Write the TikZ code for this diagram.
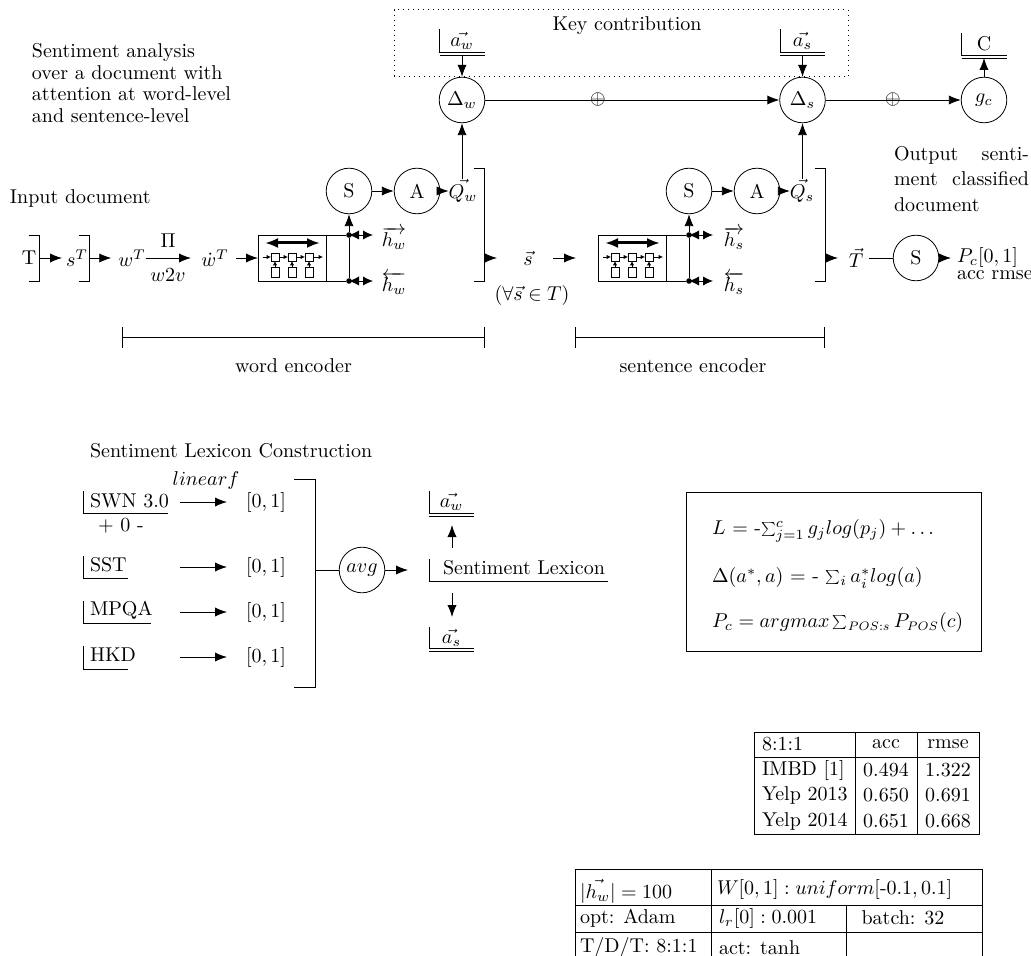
\documentclass[tikz,border=0pt]{standalone}
\usepackage{graphicx}
\usetikzlibrary{arrows.meta,calc}
\newcommand\smsum{\mathop{\vcenter{\hbox{\scalebox{0.7}{$\textstyle\sum$}}}}\nolimits}
\newcommand\possub[1]{\scalebox{0.88}{$\scriptstyle #1$}}
\tikzset{
  wh/.style 2 args={minimum width=#1*0.5pt,minimum height=#2*0.5pt},
  txt/.style={inner sep=0pt,outer sep=0pt},
  ltxt/.style={inner sep=0pt,outer sep=0pt,anchor=west},
  circ/.style={circle,draw,inner sep=0pt,minimum size=22.8pt},
  dbbox/.style={inner sep=0pt,outer sep=0pt},
  ln/.style={line width=0.45pt},
  arr/.style={line width=0.45pt,-{Latex[length=6pt,width=4.6pt]}},
  dblarr/.style={line width=0.45pt,{Latex[length=5pt,width=4.6pt]}-{Latex[length=5pt,width=4.6pt]}},
  thickarr/.style={line width=1.5pt,{Latex[length=6.5pt,width=5pt]}-{Latex[length=6.5pt,width=5pt]}},
  tinyarr/.style={line width=0.4pt,-{Latex[length=2.2pt,width=2.2pt]}},
  cellbox/.style={draw,line width=0.4pt,inner sep=0pt,outer sep=0pt},
  dotn/.style={circle,fill,inner sep=0pt,minimum size=2.8pt},
}
\newcommand\dbsingle[1]{\draw[ln] (#1.north west)--(#1.south west)--(#1.south east);}
\newcommand\dbdouble[1]{\dbsingle{#1}\draw[ln] ([yshift=-1.5pt]#1.south west)--([yshift=-1.5pt]#1.south east);}
\newcommand\bracketat[4]{% name, x, top, bottom
  \coordinate (#1a) at (#2-10.5,#3);\coordinate (#1b) at (#2,#3);
  \coordinate (#1c) at (#2,#4);\coordinate (#1d) at (#2-10.5,#4);
  \draw[ln] (#1a)--(#1b)--(#1c)--(#1d);}
\newcommand\rnninner[1]{%
  \begin{scope}[shift={(#1.center)}]
    \coordinate (#1tl) at (-27,-15);\coordinate (#1tr) at (28,-15);
    \draw[thickarr] (#1tl)--(#1tr);
    \foreach \i/\x in {1/-17,2/0,3/17}{
      \node[cellbox,wh={8}{8}] (#1u\i) at (\x,-1) {};
      \node[cellbox,wh={8}{10}] (#1d\i) at (\x,14) {};
      \draw[tinyarr] (#1d\i)--(#1u\i);
    }
    \coordinate (#1il) at (-29,-1);\coordinate (#1ir) at (31,-1);
    \draw[tinyarr] (#1il)--(#1u1);
    \draw[tinyarr] (#1u1)--(#1u2);
    \draw[tinyarr] (#1u2)--(#1u3);
    \draw[tinyarr] (#1u3)--(#1ir);
  \end{scope}}
\begin{document}
\begin{tikzpicture}[x=0.5pt,y=-0.5pt]
\useasboundingbox (0,0) rectangle (1031,956);
% top-left text
\node[ltxt,align=left,font=\fontsize{10}{10.8}\selectfont] (intro) at (32,83) {Sentiment analysis\\over a document with\\attention at word-level\\and sentence-level};
\node[ltxt] (inputdoc) at (10,199) {Input document};
% key contribution
\node[draw,dotted,line width=0.5pt,inner sep=0pt,wh={454}{67}] (keybox) at (621,43.5) {};
\node[txt] (keytxt) at (627,26) {Key contribution};
% databases top
\node[dbbox,wh={45}{23}] (awt) at (462,40.5) {$\vec{a_w}$};
\node[dbbox,wh={45}{23}] (ast) at (802.5,40.5) {$\vec{a_s}$};
\node[dbbox,wh={45}{22}] (ct) at (984,44) {C};
\dbdouble{awt}\dbdouble{ast}\dbdouble{ct}
% attention nodes
\node[circ] (dw) at (462,100) {$\Delta_w$};
\node[circ] (ds) at (802.5,100) {$\Delta_s$};
\node[circ] (gc) at (984,100) {$g_c$};
\node[txt] (op1) at (598,100) {$\oplus$};
\node[txt] (op2) at (893,100) {$\oplus$};
\draw[arr] ([yshift=-1.5pt]awt.south)--(dw);
\draw[arr] ([yshift=-1.5pt]ast.south)--(ds);
\draw[arr] (gc)--([yshift=-1.5pt]ct.south);
\draw[arr] (dw)--(ds);
\draw[arr] (ds)--(gc);
% input row
\node[txt] (T) at (29,258) {T};
\bracketat{bT}{39}{235}{281}
\node[txt] (sT) at (77,258) {$s^T$};
\bracketat{bs}{89}{235}{281}
\node[txt] (wT) at (132,258) {$w^T$};
\node[txt] (dwT) at (215,258) {$\dot{w}^T$};
\node[txt] (Pi) at (168,241) {$\Pi$};
\node[txt] (w2v) at (168,275) {$w2v$};
\draw[arr,shorten >=2pt] (bTb|-T)--(sT);
\draw[arr,shorten >=3.5pt] (bsb|-T)--(wT);
\draw[arr] (wT)--(191,258) coordinate (wTe);
\coordinate (rnnwin) at (236,258);
% word encoder
\node[draw,line width=0.45pt,inner sep=0pt,outer sep=0pt,wh={68}{46}] (rnnw) at (292,258) {};
\draw[arr] (rnnwin)--(rnnw);
\rnninner{rnnw}
\node[circ] (Sw) at (349,191) {S};
\node[circ] (Aw) at (417,191) {A};
\node[txt] (Qw) at (463,191) {$\vec{Q_w}$};
\node[dotn] (dwt) at (349,235) {};
\node[dotn] (dwb) at (349,281) {};
\coordinate (ewt) at (373,235);
\coordinate (ewb) at (373,281);
\draw[ln] (rnnw.north east)--(dwt);
\draw[ln] (rnnw.south east)--(dwb);
\draw[ln] (dwb)--(dwt);
\draw[arr] (dwt)--(Sw);
\draw[dblarr] (dwt.center)--(ewt);
\draw[dblarr] (dwb.center)--(ewb);
\node[txt] (hw1) at (394,238) {$\overrightarrow{h_w}$};
\node[txt] (hw2) at (394,283) {$\overleftarrow{h_w}$};
\draw[arr] (Sw)--(Aw);
\draw[arr] (Aw)--(Qw);
\draw[arr] (Qw.north-|dw.south)--(dw);
\bracketat{bw}{484}{168}{281}
\coordinate (bwo) at (497,258);
\draw[arr] (bwc|-bwo)--(bwo);
\node[txt] (sv) at (528,258) {$\vec{s}$};
\node[txt] (forall) at (532,296) {$(\forall\vec{s}\in T)$};
\coordinate (sa) at (553,258);\coordinate (sb) at (576,258);
\draw[arr] (sa)--(sb);
% sentence encoder
\node[draw,line width=0.45pt,inner sep=0pt,outer sep=0pt,wh={68}{46}] (rnns) at (632,258) {};
\rnninner{rnns}
\node[circ] (Ss) at (689,191) {S};
\node[circ] (As) at (757,191) {A};
\node[txt] (Qs) at (802,191) {$\vec{Q_s}$};
\node[dotn] (dst) at (689,235) {};
\node[dotn] (dsb) at (689,281) {};
\coordinate (est) at (713,235);
\coordinate (esb) at (713,281);
\draw[ln] (rnns.north east)--(dst);
\draw[ln] (rnns.south east)--(dsb);
\draw[ln] (dsb)--(dst);
\draw[arr] (dst)--(Ss);
\draw[dblarr] (dst.center)--(est);
\draw[dblarr] (dsb.center)--(esb);
\node[txt] (hs1) at (734,238) {$\overrightarrow{h_s}$};
\node[txt] (hs2) at (734,283) {$\overleftarrow{h_s}$};
\draw[arr] (Ss)--(As);
\draw[arr] (As)--(Qs);
\draw[arr] (Qs.north-|ds.south)--(ds);
\bracketat{bz}{825}{168}{281}
\coordinate (bzo) at (838,258);
\draw[arr] (bzc|-bzo)--(bzo);
\node[txt] (Tv) at (856,258) {$\vec{T}$};
\node[circ] (So) at (916,258) {S};
\draw[ln] ([xshift=3pt]Tv.east)--(So);
\node[ltxt] (Pc) at (957,258) {$P_c[0,1]$};
\node[ltxt] (accr) at (957,275) {acc rmse};
\draw[arr,shorten >=3pt] (So)--(Pc);
\node[ltxt,align=left,font=\fontsize{10}{12.75}\selectfont] (outtxt) at (894,179) {\makebox[67.5pt][s]{Output senti-}\\\makebox[67.5pt][s]{ment classified}\\document};
% encoder spans
\coordinate (we1) at (122,337.5);\coordinate (we2) at (485,337.5);
\draw[ln,{Bar[width=10.5pt]}-{Bar[width=10.5pt]}] (we1)--(we2);
\node[txt] (wet) at (293.5,366) {word encoder};
\coordinate (se1) at (575,337.5);\coordinate (se2) at (825,337.5);
\draw[ln,{Bar[width=10.5pt]}-{Bar[width=10.5pt]}] (se1)--(se2);
\node[txt] (set) at (693,366) {sentence encoder};
% lexicon
\node[ltxt] (lextitle) at (90,451) {Sentiment Lexicon Construction};
\node[txt] (linf) at (206,480) {$linear f$};
\node[dbbox,wh={85}{22}] (swn) at (125.5,502) {};
\node[dbbox,wh={45}{22}] (sst) at (105.5,567) {};
\node[dbbox,wh={68}{22}] (mpqa) at (117,612) {};
\node[dbbox,wh={45}{23}] (hkd) at (105.5,657.5) {};
\dbsingle{swn}\dbsingle{sst}\dbsingle{mpqa}\dbsingle{hkd}
\node[ltxt] (swnt) at (90,501) {SWN 3.0};
\node[txt] (pm) at (121,526) {+ 0 -};
\node[ltxt] (sstt) at (90,565) {SST};
\node[ltxt] (mpqat) at (90,610) {MPQA};
\node[ltxt] (hkdt) at (90,655) {HKD};
\foreach \n/\y in {a/502,b/567,c/612,d/657}{
  \coordinate (l\n) at (180,\y);
  \node[txt] (r\n) at (266,\y) {$[0,1]$};
  \coordinate (m\n) at (227,\y);
  \draw[arr] (l\n)--(m\n);
}
\coordinate (bla) at (294,479);\coordinate (blb) at (315.5,479);
\coordinate (blc) at (315.5,687);\coordinate (bld) at (294,687);
\draw[ln] (bla)--(blb)--(blc)--(bld);
\node[circ] (avg) at (362,570) {$avg$};
\draw[ln] (blb|-avg)--(avg);
\coordinate (avo) at (408,570);
\draw[arr] (avg)--(avo);
\node[dbbox,wh={179}{22}] (sl) at (518.5,570) {};
\dbsingle{sl}
\node[ltxt] (slt) at (443,568) {Sentiment Lexicon};
\node[dbbox,wh={45}{22}] (awl) at (451.5,502) {$\vec{a_w}$};
\node[dbbox,wh={45}{21}] (asl) at (451.5,637.5) {$\vec{a_s}$};
\dbdouble{awl}\dbdouble{asl}
\coordinate (u1) at (452,548);\coordinate (u2) at (452,525);
\coordinate (d1) at (452,593);\coordinate (d2) at (452,617);
\draw[arr] (u1)--(u2);
\draw[arr] (d1)--(d2);
% equations
\node[draw,line width=0.5pt,inner sep=0pt,wh={295}{159}] (eqbox) at (833.5,571.5) {};
\node[ltxt] (eq1) at (712,531) {$L$ = -$\smsum_{j=1}^{c} g_j log(p_j) + \ldots$};
\node[ltxt] (eq2) at (712,578) {$\Delta(a^{*},a)$ = - $\smsum_{i} a_i^{*} log(a)$};
\node[ltxt] (eq3) at (712,622) {$P_c = argmax \smsum_{\possub{POS:s}} P_{\possub{POS}}(c)$};
% table 1
\draw[line width=0.5pt] (754,732) rectangle (979,834);
\draw[line width=0.5pt] (754,757)--(979,757);
\draw[line width=0.5pt] (855,732)--(855,834);
\draw[line width=0.5pt] (917,732)--(917,834);
\foreach \n/\y/\a/\b/\c in {0/744/8:1:1/acc/rmse,1/770/IMBD [1]/0.494/1.322,2/795/Yelp 2013/0.650/0.691,3/821/Yelp 2014/0.651/0.668}{
  \node[ltxt] (ta\n) at (762,\y) {\a};
  \node[txt] (tb\n) at (886,\y) {\b};
  \node[txt] (tc\n) at (948,\y) {\c};
}
% table 2
\draw[line width=0.5pt] (575,956)--(575,869)--(982,869)--(982,956);
\draw[line width=0.5pt] (575,905)--(982,905);
\draw[line width=0.5pt] (575,932)--(982,932);
\draw[line width=0.5pt] (711,869)--(711,956);
\draw[line width=0.5pt] (846,905)--(846,956);
\node[ltxt] (c11) at (580,891) {$|\vec{h_w}| = 100$};
\node[ltxt] (c12) at (717,889) {$W[0,1]: uniform[$-$0.1,0.1]$};
\node[ltxt] (c21) at (580,918) {opt: Adam};
\node[ltxt] (c22) at (719,918) {$l_r[0]: 0.001$};
\node[txt] (c23) at (903,918) {batch: 32};
\node[ltxt] (c31) at (580,947) {T/D/T: 8:1:1};
\node[ltxt] (c32) at (719,948) {act: tanh};
\end{tikzpicture}
\end{document}
